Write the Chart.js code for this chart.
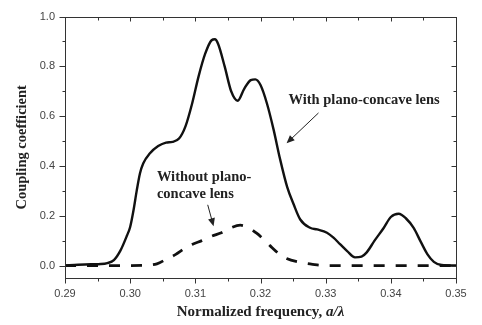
<!DOCTYPE html>
<html>
<head>
<meta charset="utf-8">
<script src="https://cdn.jsdelivr.net/npm/chart.js@4.4.0/dist/chart.umd.min.js"></script>
<style>
  html, body { margin: 0; padding: 0; background: #fff; }
  #wrap { width: 482px; height: 325px; }
</style>
</head>
<body>
<div id="wrap"><canvas id="chart" width="482" height="325"></canvas></div>
<script>
// --- data ---
const withLensX = [0.290, 0.292, 0.294, 0.2955, 0.2965, 0.2975, 0.2985, 0.2995, 0.3000, 0.3005, 0.3010, 0.3015,
  0.3020, 0.3030, 0.3043, 0.3055, 0.3065, 0.3075, 0.3085, 0.3095, 0.3105, 0.3115, 0.3125, 0.3130, 0.3135,
  0.3145, 0.3155, 0.3165, 0.3175, 0.3185, 0.3192, 0.3200, 0.3210, 0.3220, 0.3230, 0.3241, 0.3251, 0.3261,
  0.3276, 0.3287, 0.3302, 0.3312, 0.3322, 0.3333, 0.3345, 0.3355, 0.3363, 0.3375, 0.3389, 0.3400, 0.3412,
  0.3423, 0.3435, 0.3446, 0.3456, 0.3466, 0.3478, 0.3500];
const withLensY = [0.000, 0.003, 0.005, 0.006, 0.010, 0.022, 0.060, 0.120, 0.155, 0.220, 0.300, 0.370,
  0.410, 0.450, 0.480, 0.494, 0.497, 0.510, 0.560, 0.650, 0.760, 0.850, 0.905, 0.909, 0.890,
  0.800, 0.700, 0.662, 0.710, 0.745, 0.748, 0.725, 0.650, 0.547, 0.428, 0.315, 0.245, 0.185,
  0.152, 0.145, 0.132, 0.112, 0.086, 0.058, 0.033, 0.036, 0.053, 0.100, 0.151, 0.195, 0.208,
  0.190, 0.151, 0.095, 0.046, 0.015, 0.002, 0.000];

const withoutLensX = [0.290, 0.295, 0.300, 0.3030, 0.3041, 0.3056, 0.3070, 0.3082, 0.3095, 0.3110, 0.3125,
  0.3140, 0.3155, 0.3169, 0.3182, 0.3194, 0.3205, 0.3215, 0.3228, 0.3240, 0.3261, 0.3280, 0.3300, 0.3500];
const withoutLensY = [0.000, 0.000, 0.000, 0.002, 0.007, 0.026, 0.045, 0.066, 0.085, 0.100, 0.118,
  0.132, 0.152, 0.162, 0.152, 0.130, 0.105, 0.079, 0.048, 0.028, 0.013, 0.005, 0.000, 0.000];

const xTicks = [0.29, 0.30, 0.31, 0.32, 0.33, 0.34, 0.35];
const yTicks = [0.0, 0.2, 0.4, 0.6, 0.8, 1.0];

// annotations, in data units
const notes = [
  { lines: ['With plano-concave lens'], x: 0.3359, y: 0.665, align: 'center',
    arrow: [0.3289, 0.613, 0.3240, 0.491] },
  { lines: ['Without plano-', 'concave lens'], x: 0.3041, y: 0.356, align: 'left',
    arrow: [0.3119, 0.244, 0.3128, 0.158] }
];

const serif = '"Liberation Serif", "Times New Roman", serif';
const sans = '"Liberation Sans", Arial, sans-serif';

function toPoints(xs, ys) {
  return xs.map((x, i) => ({ x: x, y: ys[i] }));
}

function drawArrow(ctx, x1, y1, x2, y2) {
  const ang = Math.atan2(y2 - y1, x2 - x1);
  const len = 8, half = 3.5;
  ctx.beginPath();
  ctx.moveTo(x1, y1);
  ctx.lineTo(x2 - Math.cos(ang) * len * 0.8, y2 - Math.sin(ang) * len * 0.8);
  ctx.stroke();
  ctx.beginPath();
  ctx.moveTo(x2, y2);
  ctx.lineTo(x2 - Math.cos(ang) * len + Math.sin(ang) * half, y2 - Math.sin(ang) * len - Math.cos(ang) * half);
  ctx.lineTo(x2 - Math.cos(ang) * len - Math.sin(ang) * half, y2 - Math.sin(ang) * len + Math.cos(ang) * half);
  ctx.closePath();
  ctx.fill();
}

// frame, inward/outward ticks, x title and the annotations
const framePlugin = {
  id: 'frame',
  afterDraw(chart) {
    const ctx = chart.ctx;
    const a = chart.chartArea;
    const xs = chart.scales.x, ys = chart.scales.y;
    const L = Math.round(a.left) + 0.5, R = Math.round(a.right) + 0.5;
    const T = Math.round(a.top) + 0.5, B = Math.round(a.bottom) + 0.5;
    ctx.save();
    ctx.strokeStyle = '#333';
    ctx.lineWidth = 1;
    ctx.strokeRect(L, T, R - L, B - T);

    ctx.beginPath();
    xTicks.forEach((v, i) => {
      const px = Math.round(xs.getPixelForValue(v)) + 0.5;
      ctx.moveTo(px, B); ctx.lineTo(px, B + 5);
      ctx.moveTo(px, T); ctx.lineTo(px, T + 4);
      if (i < xTicks.length - 1) {
        const m = Math.round(xs.getPixelForValue((v + xTicks[i + 1]) / 2)) + 0.5;
        ctx.moveTo(m, B); ctx.lineTo(m, B + 3);
        ctx.moveTo(m, T); ctx.lineTo(m, T + 3);
      }
    });
    yTicks.forEach((v, i) => {
      const py = Math.round(ys.getPixelForValue(v)) + 0.5;
      ctx.moveTo(L, py); ctx.lineTo(L - 6, py);
      ctx.moveTo(R, py); ctx.lineTo(R - 5, py);
      if (i < yTicks.length - 1) {
        const m = Math.round(ys.getPixelForValue((v + yTicks[i + 1]) / 2)) + 0.5;
        ctx.moveTo(L, m); ctx.lineTo(L - 3, m);
        ctx.moveTo(R, m); ctx.lineTo(R - 3, m);
      }
    });
    ctx.stroke();

    // x axis title with italic a/λ
    ctx.fillStyle = '#222';
    ctx.textBaseline = 'middle';
    const part1 = 'Normalized frequency, ';
    const part2 = 'a/λ';
    ctx.font = 'bold 15px ' + serif;
    const w1 = ctx.measureText(part1).width;
    ctx.font = 'italic bold 15px ' + serif;
    const w2 = ctx.measureText(part2).width;
    const tx = (a.left + a.right) / 2 - (w1 + w2) / 2;
    ctx.textAlign = 'left';
    ctx.font = 'bold 15px ' + serif;
    ctx.fillText(part1, tx, 312);
    ctx.font = 'italic bold 15px ' + serif;
    ctx.fillText(part2, tx + w1, 312);

    // annotations
    ctx.font = 'bold 14.5px ' + serif;
    ctx.strokeStyle = '#222';
    notes.forEach(n => {
      ctx.textAlign = n.align;
      const px = xs.getPixelForValue(n.x), py = ys.getPixelForValue(n.y);
      n.lines.forEach((t, k) => ctx.fillText(t, px, py + k * 17.5));
      drawArrow(ctx, xs.getPixelForValue(n.arrow[0]), ys.getPixelForValue(n.arrow[1]),
        xs.getPixelForValue(n.arrow[2]), ys.getPixelForValue(n.arrow[3]));
    });
    ctx.restore();
  }
};

new Chart(document.getElementById('chart'), {
  type: 'line',
  data: {
    datasets: [
      {
        label: 'With plano-concave lens',
        data: toPoints(withLensX, withLensY),
        borderColor: '#111',
        borderWidth: 2.4,
        pointRadius: 0,
        cubicInterpolationMode: 'monotone',
        fill: false
      },
      {
        label: 'Without plano-concave lens',
        data: toPoints(withoutLensX, withoutLensY),
        borderColor: '#111',
        borderWidth: 2.8,
        borderDash: [11, 11],
        pointRadius: 0,
        cubicInterpolationMode: 'monotone',
        fill: false
      }
    ]
  },
  options: {
    responsive: false,
    animation: false,
    layout: { padding: { top: 12, right: 26, left: 0, bottom: 0 } },
    plugins: { legend: { display: false }, tooltip: { enabled: false } },
    scales: {
      x: {
        type: 'linear',
        min: 0.29,
        max: 0.35,
        afterBuildTicks: s => { s.ticks = xTicks.map(v => ({ value: v })); },
        afterFit: s => { s.height = 47; },
        grid: { display: false, drawTicks: false },
        border: { display: false },
        ticks: {
          padding: 9,
          color: '#444',
          font: { family: sans, size: 11 },
          maxRotation: 0,
          callback: v => v.toFixed(2)
        }
      },
      y: {
        min: -0.05,
        max: 1.0,
        afterBuildTicks: s => { s.ticks = yTicks.map(v => ({ value: v })); },
        afterFit: s => { s.width = 65; },
        grid: { display: false, drawTicks: false },
        border: { display: false },
        title: {
          display: true,
          text: 'Coupling coefficient',
          color: '#222',
          font: { family: serif, size: 14.5, weight: 'bold' },
          padding: { top: 14, bottom: 0 }
        },
        ticks: {
          padding: 10,
          color: '#444',
          font: { family: sans, size: 11 },
          callback: v => v.toFixed(1)
        }
      }
    }
  },
  plugins: [framePlugin]
});
</script>
</body>
</html>
